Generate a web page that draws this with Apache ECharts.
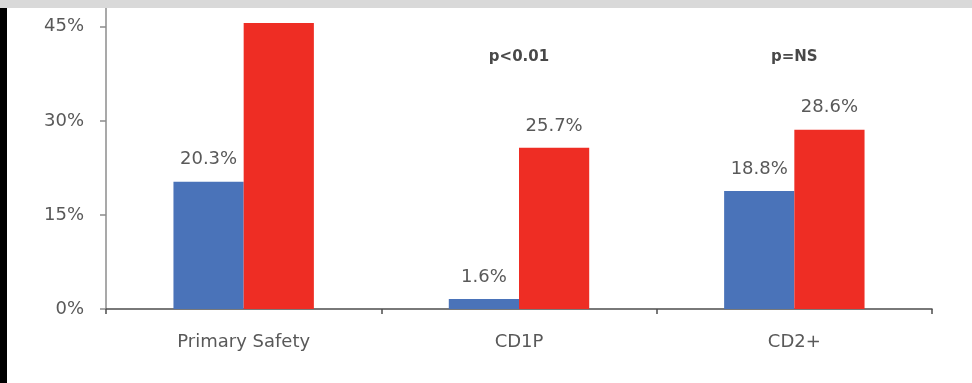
<!DOCTYPE html>
<html>
<head>
<meta charset="utf-8">
<script src="https://cdn.jsdelivr.net/npm/echarts@6/dist/echarts.min.js"></script>
<style>
  html, body { margin: 0; padding: 0; background: #fff; }
  #chart { width: 972px; height: 383px; }
</style>
</head>
<body>
<div id="chart"></div>
<script>
// Event rates by endpoint, two arms
const categories = ['Primary Safety', 'CD1P', 'CD2+'];
const blueValues = [20.3, 1.6, 18.8];
const redValues = [45.6, 25.7, 28.6];
const pValueLabels = ['', 'p<0.01', 'p=NS'];
const yTicks = [0, 15, 30, 45];

// height (in axis units) at which the p-value notes sit
const P_LEVEL = 40.2;

const FONT = 'DejaVu Sans';
const LABEL_GRAY = '#595959';

const chart = echarts.init(document.getElementById('chart'), null, { renderer: 'canvas' });

const valueLabel = {
  show: true,
  position: 'top',
  distance: 13,
  fontFamily: FONT,
  fontSize: 18,
  color: LABEL_GRAY,
  formatter: p => p.value.toFixed(1) + '%'
};

chart.setOption({
  animation: false,
  backgroundColor: '#ffffff',
  grid: { left: 106, right: 40, top: 8, bottom: 74 },
  xAxis: {
    type: 'category',
    data: categories,
    axisLine: { show: true, lineStyle: { color: '#4d4d4d', width: 1.5 } },
    axisTick: { show: true, length: 5, lineStyle: { color: '#4d4d4d', width: 1.5 } },
    axisLabel: { margin: 24, fontFamily: FONT, fontSize: 18, color: LABEL_GRAY }
  },
  yAxis: {
    type: 'value',
    min: 0,
    max: 48,
    splitLine: { show: false },
    axisLine: { show: true, lineStyle: { color: '#8c8c8c', width: 1.5 } },
    axisTick: { show: true, inside: false, length: 6, customValues: yTicks,
                lineStyle: { color: '#8c8c8c', width: 1.5 } },
    axisLabel: { margin: 22, customValues: yTicks, fontFamily: FONT, fontSize: 18,
                 color: LABEL_GRAY, formatter: v => v + '%' }
  },
  series: [
    {
      type: 'bar',
      data: blueValues,
      barGap: '0%',
      barCategoryGap: '49%',
      itemStyle: { color: '#4a73b9' },
      label: valueLabel
    },
    {
      type: 'bar',
      data: redValues,
      itemStyle: { color: '#ee2d24' },
      label: valueLabel
    },
    {
      type: 'scatter',
      symbolSize: 0,
      silent: true,
      data: categories.map((c, i) => pValueLabels[i] ? [i, P_LEVEL] : [i, '-']),
      label: {
        show: true,
        position: 'inside',
        fontFamily: FONT,
        fontWeight: 'bold',
        fontSize: 15,
        color: '#1a1a1a',
        formatter: p => pValueLabels[p.dataIndex]
      }
    }
  ],
  graphic: [
    { type: 'rect', z: 100, shape: { x: 0, y: 0, width: 972, height: 8 }, style: { fill: '#d9d9d9' } },
    { type: 'rect', z: 100, shape: { x: 0, y: 8, width: 7, height: 375 }, style: { fill: '#000000' } }
  ]
});
</script>
</body>
</html>
